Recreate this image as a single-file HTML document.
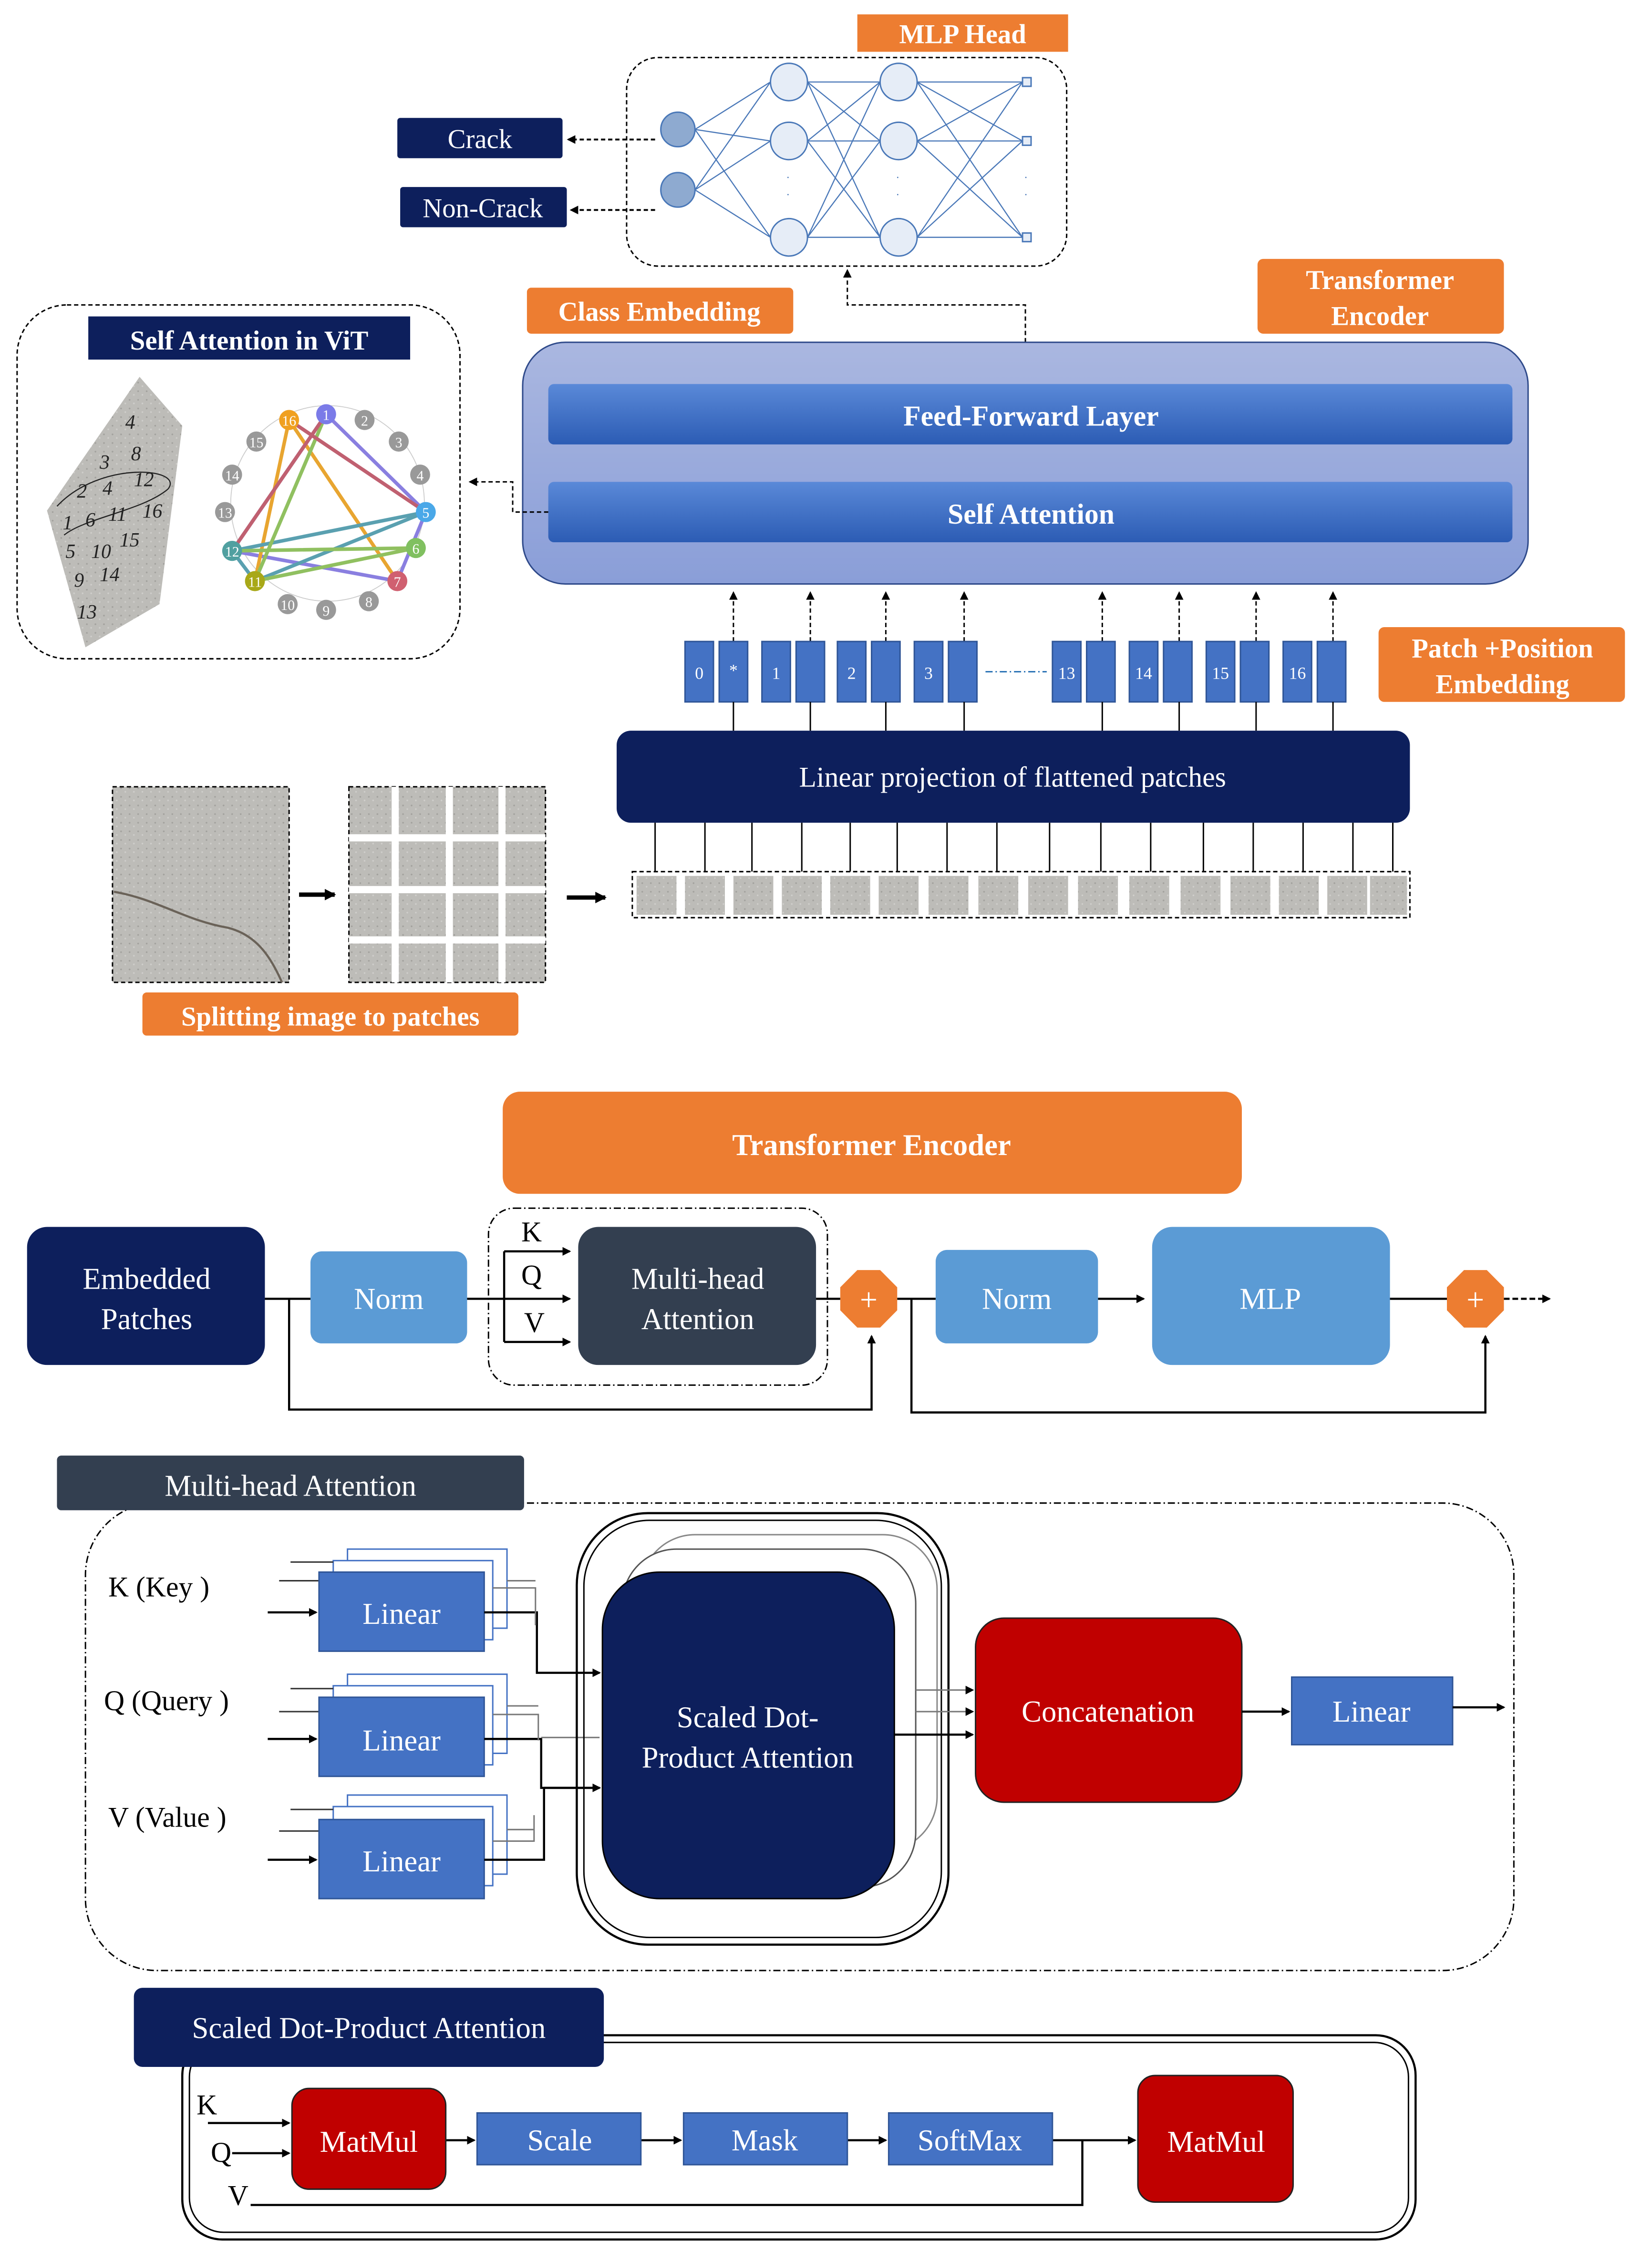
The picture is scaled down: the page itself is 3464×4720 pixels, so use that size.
<!DOCTYPE html>
<html><head><meta charset="utf-8"><style>
html,body{margin:0;padding:0;background:#fff}
svg{display:block}
text{font-family:"Liberation Serif",serif}
</style></head><body>
<svg width="3464" height="4720" viewBox="0 0 1160 1565" preserveAspectRatio="none" xmlns="http://www.w3.org/2000/svg">
<defs>
<marker id="ah" markerWidth="8" markerHeight="8" refX="7" refY="4" orient="auto" markerUnits="userSpaceOnUse"><path d="M0,0 L8,4 L0,8 z" fill="#000"/></marker>
<marker id="ahs" markerWidth="6" markerHeight="6" refX="5" refY="3" orient="auto" markerUnits="userSpaceOnUse"><path d="M0,0 L6,3 L0,6 z" fill="#000"/></marker>
<linearGradient id="enc" x1="0" y1="0" x2="0" y2="1"><stop offset="0" stop-color="#aab7e0"/><stop offset="1" stop-color="#8a9ed8"/></linearGradient>
<linearGradient id="bar" x1="0" y1="0" x2="0" y2="1"><stop offset="0" stop-color="#5a89d8"/><stop offset="1" stop-color="#2c5cb4"/></linearGradient>
<pattern id="conc" width="6" height="6" patternUnits="userSpaceOnUse"><rect width="6" height="6" fill="#bdbcb8"/><circle cx="1" cy="2" r="0.6" fill="#a2a19d"/><circle cx="4" cy="4.5" r="0.6" fill="#cfcecb"/></pattern>
</defs>

<!-- MLP Head -->
<rect x="602" y="10" width="148" height="26" fill="#ed7d31"/>
<text x="676" y="30" font-size="19" font-weight="bold" fill="#fff" text-anchor="middle">MLP Head</text>
<rect x="440" y="40" width="309" height="145" rx="22" fill="none" stroke="#000" stroke-dasharray="3,2"/>
<g stroke="#4a78b8" stroke-width="0.8" fill="none">
<path d="M488,90 L541,57 M488,90 L541,98 M488,90 L541,165 M488,132 L541,57 M488,132 L541,98 M488,132 L541,165"/>
<path d="M567,57 L618,57 M567,57 L618,98 M567,57 L618,165 M567,98 L618,57 M567,98 L618,98 M567,98 L618,165 M567,165 L618,57 M567,165 L618,98 M567,165 L618,165"/>
<path d="M644,57 L718,57 M644,57 L718,98 M644,57 L718,165 M644,98 L718,57 M644,98 L718,98 M644,98 L718,165 M644,165 L718,57 M644,165 L718,98 M644,165 L718,165"/>
</g>
<g fill="#e6edf7" stroke="#4a78b8" stroke-width="1">
<circle cx="554" cy="57" r="13"/><circle cx="554" cy="98" r="13"/><circle cx="554" cy="165" r="13"/>
<circle cx="631" cy="57" r="13"/><circle cx="631" cy="98" r="13"/><circle cx="631" cy="165" r="13"/>
<rect x="718" y="54" width="6" height="6"/><rect x="718" y="95" width="6" height="6"/><rect x="718" y="162" width="6" height="6"/>
</g>
<circle cx="476" cy="90" r="12" fill="#8eaad0" stroke="#4a78b8"/>
<circle cx="476" cy="132" r="12" fill="#8eaad0" stroke="#4a78b8"/>
<g fill="#4a78b8" font-size="8"><text x="552" y="126">·</text><text x="552" y="138">·</text><text x="629" y="126">·</text><text x="629" y="138">·</text><text x="719" y="126">·</text><text x="719" y="138">·</text></g>
<rect x="279" y="82" width="116" height="28" rx="2" fill="#0d1f5c"/>
<text x="337" y="103" font-size="19" fill="#fff" text-anchor="middle">Crack</text>
<rect x="281" y="130" width="117" height="28" rx="2" fill="#0d1f5c"/>
<text x="339" y="151" font-size="19" fill="#fff" text-anchor="middle">Non-Crack</text>
<line x1="460" y1="97" x2="399" y2="97" stroke="#000" stroke-width="1.3" stroke-dasharray="3,2" marker-end="url(#ahs)"/>
<line x1="460" y1="146" x2="401" y2="146" stroke="#000" stroke-width="1.3" stroke-dasharray="3,2" marker-end="url(#ahs)"/>

<rect x="883" y="180" width="173" height="52" rx="4" fill="#ed7d31"/>
<text x="969" y="201" font-size="19" font-weight="bold" fill="#fff" text-anchor="middle">Transformer</text>
<text x="969" y="226" font-size="19" font-weight="bold" fill="#fff" text-anchor="middle">Encoder</text>
<rect x="370" y="200" width="187" height="32" rx="3" fill="#ed7d31"/>
<text x="463" y="223" font-size="19" font-weight="bold" fill="#fff" text-anchor="middle">Class Embedding</text>

<path d="M720,238 V212 H595 V188" fill="none" stroke="#000" stroke-dasharray="3,2" marker-end="url(#ahs)"/>
<rect x="367" y="238" width="706" height="168" rx="30" fill="url(#enc)" stroke="#2f4a8a" stroke-width="1"/>
<rect x="385" y="267" width="677" height="42" rx="4" fill="url(#bar)"/>
<text x="724" y="296" font-size="20" font-weight="bold" fill="#fff" text-anchor="middle">Feed-Forward Layer</text>
<rect x="385" y="335" width="677" height="42" rx="4" fill="url(#bar)"/>
<text x="724" y="364" font-size="20" font-weight="bold" fill="#fff" text-anchor="middle">Self Attention</text>
<path d="M385,356 H360 V335 H330" fill="none" stroke="#000" stroke-dasharray="3,2" marker-end="url(#ahs)"/>

<rect x="12" y="212" width="311" height="246" rx="35" fill="none" stroke="#000" stroke-dasharray="3,2"/>
<rect x="62" y="220" width="226" height="30" fill="#0d1f5c"/>
<text x="175" y="243" font-size="19" font-weight="bold" fill="#fff" text-anchor="middle">Self Attention in ViT</text>
<polygon points="98,262 128,296 112,420 60,450 33,355" fill="url(#conc)"/>
<g font-size="14" font-style="italic" fill="#222">
<text x="88" y="298">4</text><text x="70" y="326">3</text><text x="92" y="320">8</text><text x="54" y="346">2</text><text x="72" y="344">4</text><text x="94" y="338">12</text>
<text x="44" y="368">1</text><text x="60" y="366">6</text><text x="76" y="362">11</text><text x="100" y="360">16</text>
<text x="46" y="388">5</text><text x="64" y="388">10</text><text x="84" y="380">15</text><text x="52" y="408">9</text><text x="70" y="404">14</text><text x="54" y="430">13</text>
</g>
<path d="M40,352 C70,320 130,325 118,340 C100,355 60,360 45,372" fill="none" stroke="#222" stroke-width="0.8"/>
<circle cx="230" cy="350" r="68" fill="none" stroke="#ccc" stroke-width="0.6"/>
<g stroke-width="2.5" fill="none">
<path d="M229,288 L299,356 L279,404 L163,383 Z" stroke="#8a7fe0"/>
<path d="M203,292 L279,404 M203,292 L179,404" stroke="#e8a530"/>
<path d="M163,383 L299,356 L179,404 Z" stroke="#5aa0b0"/>
<path d="M229,288 L179,404 M292,381 L163,383 M292,381 L179,404" stroke="#90c060"/>
<path d="M229,288 L163,383 M203,292 L299,356" stroke="#c06070"/>
</g>
<g font-size="10" text-anchor="middle" fill="#fff">
<circle cx="229" cy="288" r="7" fill="#7b7be8"/><text x="229" y="292">1</text>
<circle cx="256" cy="292" r="7" fill="#999"/><text x="256" y="296">2</text>
<circle cx="280" cy="307" r="7" fill="#999"/><text x="280" y="311">3</text>
<circle cx="295" cy="330" r="7" fill="#999"/><text x="295" y="334">4</text>
<circle cx="299" cy="356" r="7" fill="#4aa8e8"/><text x="299" y="360">5</text>
<circle cx="292" cy="381" r="7" fill="#80c060"/><text x="292" y="385">6</text>
<circle cx="279" cy="404" r="7" fill="#d06070"/><text x="279" y="408">7</text>
<circle cx="259" cy="418" r="7" fill="#999"/><text x="259" y="422">8</text>
<circle cx="229" cy="424" r="7" fill="#999"/><text x="229" y="428">9</text>
<circle cx="202" cy="420" r="7" fill="#999"/><text x="202" y="424">10</text>
<circle cx="179" cy="404" r="7" fill="#a8a818"/><text x="179" y="408">11</text>
<circle cx="163" cy="383" r="7" fill="#50a0a0"/><text x="163" y="387">12</text>
<circle cx="158" cy="356" r="7" fill="#999"/><text x="158" y="360">13</text>
<circle cx="163" cy="330" r="7" fill="#999"/><text x="163" y="334">14</text>
<circle cx="180" cy="307" r="7" fill="#999"/><text x="180" y="311">15</text>
<circle cx="203" cy="292" r="7" fill="#f0a020"/><text x="203" y="296">16</text>
</g>

<g stroke="#000" stroke-dasharray="3,2">
<line x1="515" y1="446" x2="515" y2="412" marker-end="url(#ahs)"/><line x1="569" y1="446" x2="569" y2="412" marker-end="url(#ahs)"/>
<line x1="622" y1="446" x2="622" y2="412" marker-end="url(#ahs)"/><line x1="677" y1="446" x2="677" y2="412" marker-end="url(#ahs)"/>
<line x1="774" y1="446" x2="774" y2="412" marker-end="url(#ahs)"/><line x1="828" y1="446" x2="828" y2="412" marker-end="url(#ahs)"/>
<line x1="882" y1="446" x2="882" y2="412" marker-end="url(#ahs)"/><line x1="936" y1="446" x2="936" y2="412" marker-end="url(#ahs)"/>
</g>
<g fill="#4472c4" stroke="#2f5597" stroke-width="1">
<rect x="481" y="446" width="20" height="42"/><rect x="505" y="446" width="20" height="42"/>
<rect x="535" y="446" width="20" height="42"/><rect x="559" y="446" width="20" height="42"/>
<rect x="588" y="446" width="20" height="42"/><rect x="612" y="446" width="20" height="42"/>
<rect x="642" y="446" width="20" height="42"/><rect x="666" y="446" width="20" height="42"/>
<rect x="739" y="446" width="20" height="42"/><rect x="763" y="446" width="20" height="42"/>
<rect x="793" y="446" width="20" height="42"/><rect x="817" y="446" width="20" height="42"/>
<rect x="847" y="446" width="20" height="42"/><rect x="871" y="446" width="20" height="42"/>
<rect x="901" y="446" width="20" height="42"/><rect x="925" y="446" width="20" height="42"/>
</g>
<g font-size="12" fill="#fff" text-anchor="middle">
<text x="491" y="472">0</text><text x="515" y="470">*</text><text x="545" y="472">1</text><text x="598" y="472">2</text><text x="652" y="472">3</text>
<text x="749" y="472">13</text><text x="803" y="472">14</text><text x="857" y="472">15</text><text x="911" y="472">16</text>
</g>
<line x1="692" y1="467" x2="735" y2="467" stroke="#2e75b6" stroke-dasharray="5,2,1,2"/>
<rect x="968" y="436" width="173" height="52" rx="4" fill="#ed7d31"/>
<text x="1055" y="457" font-size="19" font-weight="bold" fill="#fff" text-anchor="middle">Patch +Position</text>
<text x="1055" y="482" font-size="19" font-weight="bold" fill="#fff" text-anchor="middle">Embedding</text>
<g stroke="#000"><line x1="515" y1="488" x2="515" y2="508"/><line x1="569" y1="488" x2="569" y2="508"/><line x1="622" y1="488" x2="622" y2="508"/><line x1="677" y1="488" x2="677" y2="508"/><line x1="774" y1="488" x2="774" y2="508"/><line x1="828" y1="488" x2="828" y2="508"/><line x1="882" y1="488" x2="882" y2="508"/><line x1="936" y1="488" x2="936" y2="508"/></g>
<rect x="433" y="508" width="557" height="64" rx="10" fill="#0d1f5c"/>
<text x="711" y="547" font-size="20" fill="#fff" text-anchor="middle">Linear projection of flattened patches</text>
<g stroke="#000">
<line x1="460" y1="572" x2="460" y2="606"/><line x1="495" y1="572" x2="495" y2="606"/><line x1="528" y1="572" x2="528" y2="606"/><line x1="563" y1="572" x2="563" y2="606"/>
<line x1="597" y1="572" x2="597" y2="606"/><line x1="630" y1="572" x2="630" y2="606"/><line x1="665" y1="572" x2="665" y2="606"/><line x1="700" y1="572" x2="700" y2="606"/>
<line x1="737" y1="572" x2="737" y2="606"/><line x1="773" y1="572" x2="773" y2="606"/><line x1="808" y1="572" x2="808" y2="606"/><line x1="845" y1="572" x2="845" y2="606"/>
<line x1="880" y1="572" x2="880" y2="606"/><line x1="915" y1="572" x2="915" y2="606"/><line x1="950" y1="572" x2="950" y2="606"/><line x1="978" y1="572" x2="978" y2="606"/>
</g>
<rect x="444" y="606" width="546" height="32" fill="#fff" stroke="#000" stroke-dasharray="3,2"/>
<g fill="url(#conc)">
<rect x="447" y="609" width="28" height="27"/><rect x="481" y="609" width="28" height="27"/><rect x="515" y="609" width="28" height="27"/><rect x="549" y="609" width="28" height="27"/>
<rect x="583" y="609" width="28" height="27"/><rect x="617" y="609" width="28" height="27"/><rect x="652" y="609" width="28" height="27"/><rect x="687" y="609" width="28" height="27"/>
<rect x="722" y="609" width="28" height="27"/><rect x="757" y="609" width="28" height="27"/><rect x="793" y="609" width="28" height="27"/><rect x="829" y="609" width="28" height="27"/>
<rect x="864" y="609" width="28" height="27"/><rect x="898" y="609" width="28" height="27"/><rect x="932" y="609" width="28" height="27"/><rect x="962" y="609" width="26" height="27"/>
</g>

<rect x="79" y="547" width="124" height="136" fill="url(#conc)" stroke="#000" stroke-dasharray="3,2"/>
<path d="M80,620 C110,625 130,640 160,645 C180,650 190,665 198,683" fill="none" stroke="#6a6258" stroke-width="1.5"/>
<line x1="210" y1="622" x2="235" y2="622" stroke="#000" stroke-width="3" marker-end="url(#ah)"/>
<rect x="245" y="547" width="138" height="136" fill="url(#conc)" stroke="#000" stroke-dasharray="3,2"/>
<g fill="#fff"><rect x="275" y="547" width="5" height="136"/><rect x="313" y="547" width="5" height="136"/><rect x="350" y="547" width="5" height="136"/>
<rect x="245" y="580" width="138" height="5"/><rect x="245" y="616" width="138" height="5"/><rect x="245" y="651" width="138" height="5"/></g>
<line x1="398" y1="624" x2="425" y2="624" stroke="#000" stroke-width="3" marker-end="url(#ah)"/>
<rect x="100" y="690" width="264" height="30" rx="3" fill="#ed7d31"/>
<text x="232" y="713" font-size="19" font-weight="bold" fill="#fff" text-anchor="middle">Splitting image to patches</text>

<rect x="353" y="759" width="519" height="71" rx="12" fill="#ed7d31"/>
<text x="612" y="803" font-size="21" font-weight="bold" fill="#fff" text-anchor="middle">Transformer Encoder</text>
<rect x="19" y="853" width="167" height="96" rx="14" fill="#0d1f5c"/>
<text x="103" y="896" font-size="21" fill="#fff" text-anchor="middle">Embedded</text>
<text x="103" y="924" font-size="21" fill="#fff" text-anchor="middle">Patches</text>
<rect x="218" y="870" width="110" height="64" rx="8" fill="#5b9bd5"/>
<text x="273" y="910" font-size="21" fill="#fff" text-anchor="middle">Norm</text>
<rect x="343" y="840" width="238" height="123" rx="18" fill="none" stroke="#000" stroke-dasharray="5,2,1,2"/>
<rect x="406" y="853" width="167" height="96" rx="14" fill="#333f50"/>
<text x="490" y="896" font-size="21" fill="#fff" text-anchor="middle">Multi-head</text>
<text x="490" y="924" font-size="21" fill="#fff" text-anchor="middle">Attention</text>
<g font-size="20" fill="#000"><text x="366" y="863">K</text><text x="366" y="893">Q</text><text x="368" y="926">V</text></g>
<g stroke="#000" stroke-width="1.5" fill="none">
<path d="M186,903 H218"/><path d="M328,903 H400" marker-end="url(#ahs)"/>
<path d="M354,870 V933"/><path d="M354,870 H400" marker-end="url(#ahs)"/><path d="M354,933 H400" marker-end="url(#ahs)"/>
<path d="M573,903 H590"/><path d="M630,903 H657"/>
<path d="M771,903 H803" marker-end="url(#ahs)"/><path d="M976,903 H1016"/>
<path d="M203,903 V980 H612 V929" marker-end="url(#ahs)"/>
<path d="M640,903 V982 H1043 V929" marker-end="url(#ahs)"/>
</g>
<line x1="1056" y1="903" x2="1088" y2="903" stroke="#000" stroke-width="1.5" stroke-dasharray="4,2" marker-end="url(#ahs)"/>
<polygon points="602,883 618,883 630,895 630,911 618,923 602,923 590,911 590,895" fill="#ed7d31"/>
<text x="610" y="911" font-size="22" fill="#fff" text-anchor="middle">+</text>
<rect x="657" y="869" width="114" height="65" rx="8" fill="#5b9bd5"/>
<text x="714" y="910" font-size="21" fill="#fff" text-anchor="middle">Norm</text>
<rect x="809" y="853" width="167" height="96" rx="14" fill="#5b9bd5"/>
<text x="892" y="910" font-size="21" fill="#fff" text-anchor="middle">MLP</text>
<polygon points="1028,883 1044,883 1056,895 1056,911 1044,923 1028,923 1016,911 1016,895" fill="#ed7d31"/>
<text x="1036" y="911" font-size="22" fill="#fff" text-anchor="middle">+</text>

<rect x="60" y="1045" width="1003" height="325" rx="50" fill="none" stroke="#000" stroke-dasharray="5,2,1,2"/>
<rect x="40" y="1012" width="328" height="38" rx="3" fill="#333f50"/>
<text x="204" y="1040" font-size="21" fill="#fff" text-anchor="middle">Multi-head Attention</text>
<g font-size="20"><text x="76" y="1110">K (Key )</text><text x="73" y="1189">Q (Query )</text><text x="76" y="1270">V (Value )</text></g>
<g stroke="#333" fill="none" stroke-width="1">
<rect x="244" y="1077" width="112" height="55" fill="#fff" stroke="#4472c4"/>
<rect x="234" y="1085" width="112" height="55" fill="#fff" stroke="#4472c4"/>
<path d="M204,1086 H234 M196,1099 H224"/>
<rect x="244" y="1164" width="112" height="55" fill="#fff" stroke="#4472c4"/>
<rect x="234" y="1172" width="112" height="55" fill="#fff" stroke="#4472c4"/>
<path d="M204,1174 H234 M196,1190 H224"/>
<rect x="244" y="1248" width="112" height="55" fill="#fff" stroke="#4472c4"/>
<rect x="234" y="1256" width="112" height="55" fill="#fff" stroke="#4472c4"/>
<path d="M204,1258 H234 M196,1273 H224"/>
</g>
<g fill="#4472c4" stroke="#2f5597"><rect x="224" y="1093" width="116" height="55"/><rect x="224" y="1180" width="116" height="55"/><rect x="224" y="1265" width="116" height="55"/></g>
<g font-size="21" fill="#fff" text-anchor="middle"><text x="282" y="1129">Linear</text><text x="282" y="1217">Linear</text><text x="282" y="1301">Linear</text></g>
<g stroke="#000" stroke-width="1.5" fill="none">
<path d="M188,1121 H222" marker-end="url(#ahs)"/><path d="M188,1209 H222" marker-end="url(#ahs)"/><path d="M188,1293 H222" marker-end="url(#ahs)"/>
<path d="M340,1121 H377 V1163 H421" marker-end="url(#ahs)"/>
<path d="M340,1209 H380 V1243 H421" marker-end="url(#ahs)"/>
</g>
<g stroke="#777" fill="none"><path d="M346,1104 H376 V1130 M356,1099 H376"/><path d="M346,1192 H378 V1210 M356,1186 H378 M380,1208 H421"/><path d="M346,1280 H375 V1262 M356,1272 H375"/></g>
<path d="M340,1293 H382 V1243 M382,1243 H421" stroke="#000" stroke-width="1.5" fill="none" marker-end="url(#ahs)"/>
<rect x="405" y="1052" width="261" height="300" rx="50" fill="none" stroke="#000" stroke-width="1.5"/>
<rect x="410" y="1057" width="251" height="290" rx="46" fill="none" stroke="#000" stroke-width="1"/>
<rect x="450" y="1067" width="208" height="220" rx="38" fill="#fff" stroke="#888"/>
<rect x="437" y="1077" width="206" height="235" rx="38" fill="#fff" stroke="#555"/>
<rect x="423" y="1093" width="205" height="227" rx="40" fill="#0d1f5c" stroke="#000"/>
<text x="525" y="1201" font-size="21" fill="#fff" text-anchor="middle">Scaled Dot-</text>
<text x="525" y="1229" font-size="21" fill="#fff" text-anchor="middle">Product Attention</text>
<g stroke="#777" fill="none"><path d="M643,1175 H683" marker-end="url(#ahs)"/><path d="M643,1190 H683" marker-end="url(#ahs)"/></g>
<path d="M628,1206 H683" stroke="#000" stroke-width="1.5" marker-end="url(#ahs)"/>
<rect x="685" y="1125" width="187" height="128" rx="20" fill="#c00000" stroke="#222"/>
<text x="778" y="1197" font-size="21" fill="#fff" text-anchor="middle">Concatenation</text>
<path d="M872,1190 H905" stroke="#000" stroke-width="1.5" marker-end="url(#ahs)"/>
<rect x="907" y="1166" width="113" height="47" fill="#4472c4" stroke="#2f5597"/>
<text x="963" y="1197" font-size="21" fill="#fff" text-anchor="middle">Linear</text>
<path d="M1020,1187 H1056" stroke="#000" stroke-width="1.5" marker-end="url(#ahs)"/>

<rect x="128" y="1415" width="866" height="142" rx="28" fill="none" stroke="#000" stroke-width="1.5"/>
<rect x="133" y="1420" width="856" height="132" rx="24" fill="none" stroke="#000" stroke-width="1"/>
<rect x="94" y="1382" width="330" height="55" rx="6" fill="#0d1f5c"/>
<text x="259" y="1417" font-size="21" fill="#fff" text-anchor="middle">Scaled Dot-Product Attention</text>
<g font-size="20"><text x="138" y="1470">K</text><text x="148" y="1503">Q</text><text x="160" y="1533">V</text></g>
<g stroke="#000" stroke-width="1.5" fill="none">
<path d="M146,1476 H203" marker-end="url(#ahs)"/><path d="M163,1497 H203" marker-end="url(#ahs)"/>
<path d="M176,1533 H760 V1488"/><path d="M313,1488 H333" marker-end="url(#ahs)"/>
<path d="M450,1488 H478" marker-end="url(#ahs)"/><path d="M595,1488 H622" marker-end="url(#ahs)"/>
<path d="M739,1488 H797" marker-end="url(#ahs)"/>
</g>
<rect x="205" y="1452" width="108" height="70" rx="12" fill="#c00000" stroke="#222"/>
<text x="259" y="1496" font-size="21" fill="#fff" text-anchor="middle">MatMul</text>
<g fill="#4472c4" stroke="#2f5597"><rect x="335" y="1469" width="115" height="36"/><rect x="480" y="1469" width="115" height="36"/><rect x="624" y="1469" width="115" height="36"/></g>
<g font-size="21" fill="#fff" text-anchor="middle"><text x="393" y="1495">Scale</text><text x="537" y="1495">Mask</text><text x="681" y="1495">SoftMax</text></g>
<rect x="799" y="1443" width="109" height="88" rx="12" fill="#c00000" stroke="#222"/>
<text x="854" y="1496" font-size="21" fill="#fff" text-anchor="middle">MatMul</text>
</svg>
</body></html>
